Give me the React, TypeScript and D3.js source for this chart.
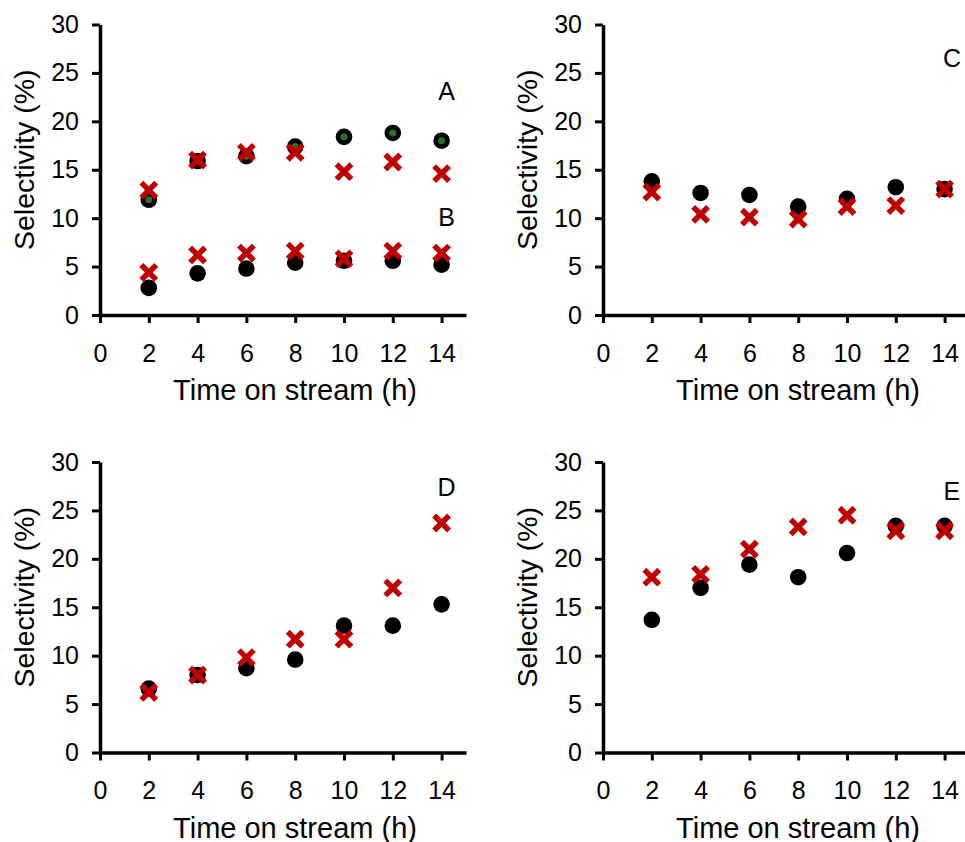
import React, { useEffect, useRef } from "react";
import * as d3 from "d3";

const hours = [2, 4, 6, 8, 10, 12, 14];

// panel A (upper group) and B (lower group) share the top-left axes
const aCircle = [11.9, 15.9, 16.4, 17.4, 18.4, 18.8, 18.0];
const aCross = [12.9, 16.0, 16.8, 16.8, 14.8, 15.8, 14.6];
const bCircle = [2.8, 4.3, 4.8, 5.4, 5.6, 5.6, 5.2];
const bCross = [4.4, 6.2, 6.4, 6.6, 5.8, 6.6, 6.4];
const cCircle = [13.8, 12.6, 12.4, 11.2, 12.0, 13.2, 13.0];
const cCross = [12.7, 10.4, 10.1, 9.9, 11.2, 11.3, 13.0];
const dCircle = [6.6, 8.0, 8.7, 9.6, 13.1, 13.1, 15.3];
const dCross = [6.2, 8.0, 9.8, 11.7, 11.7, 17.0, 23.7];
const eCircle = [13.7, 17.0, 19.4, 18.1, 20.6, 23.4, 23.4];
const eCross = [18.1, 18.4, 21.0, 23.3, 24.5, 22.9, 22.9];

const xTicks = [0, 2, 4, 6, 8, 10, 12, 14];
const yTicks = [0, 5, 10, 15, 20, 25, 30];

type Label = { text: string; x: number; y: number };
type Panel = {
  left: number;
  top: number;
  circles: { values: number[]; dot: boolean }[];
  crosses: number[][];
  labels: Label[];
};

const panels: Panel[] = [
  {
    left: 100, top: 24.5,
    circles: [{ values: aCircle, dot: true }, { values: bCircle, dot: false }],
    crosses: [aCross, bCross],
    labels: [{ text: "A", x: 14.2, y: 22.2 }, { text: "B", x: 14.2, y: 9.2 }],
  },
  {
    left: 603, top: 24.5,
    circles: [{ values: cCircle, dot: false }],
    crosses: [cCross],
    labels: [{ text: "C", x: 14.3, y: 25.6 }],
  },
  {
    left: 100, top: 462,
    circles: [{ values: dCircle, dot: false }],
    crosses: [dCross],
    labels: [{ text: "D", x: 14.2, y: 26.5 }],
  },
  {
    left: 603, top: 462,
    circles: [{ values: eCircle, dot: false }],
    crosses: [eCross],
    labels: [{ text: "E", x: 14.3, y: 26.1 }],
  },
];

const W = 366;
const H = 290.5;
const FONT = "Liberation Sans, Arial, sans-serif";

export default function App() {
  const ref = useRef<SVGSVGElement>(null);

  useEffect(() => {
    const svg = d3.select(ref.current);
    svg.selectAll("*").remove();

    panels.forEach((p) => {
      const g = svg.append("g").attr("transform", `translate(${p.left},${p.top})`);
      const x = d3.scaleLinear().domain([0, 15]).range([0, W]);
      const y = d3.scaleLinear().domain([0, 30]).range([H, 0]);

      // y axis
      const ya = g.append("g").call(
        d3.axisLeft(y).tickValues(yTicks).tickSize(8).tickSizeOuter(0).tickPadding(13)
      );
      ya.select(".domain").attr("stroke", "#000").attr("stroke-width", 3.5);
      ya.selectAll(".tick line").attr("stroke", "#000").attr("stroke-width", 3);
      ya.selectAll(".tick text").attr("font-size", 25).attr("font-family", FONT).attr("fill", "#000");

      // x axis
      const xa = g.append("g").attr("transform", `translate(0,${H})`).call(
        d3.axisBottom(x).tickValues(xTicks).tickSize(8).tickSizeOuter(0).tickPadding(21)
      );
      xa.select(".domain").attr("stroke", "#000").attr("stroke-width", 3.5);
      xa.selectAll(".tick line").attr("stroke", "#000").attr("stroke-width", 3);
      xa.selectAll(".tick text").attr("font-size", 25).attr("font-family", FONT).attr("fill", "#000");

      // titles
      g.append("text")
        .attr("transform", `translate(${-66},${H / 2 - 10}) rotate(-90)`)
        .attr("text-anchor", "middle")
        .attr("font-size", 28.5)
        .attr("font-family", FONT)
        .text("Selectivity (%)");
      g.append("text")
        .attr("x", 195)
        .attr("y", H + 85)
        .attr("text-anchor", "middle")
        .attr("font-size", 29)
        .attr("font-family", FONT)
        .text("Time on stream (h)");

      // circles
      p.circles.forEach((s) => {
        g.append("g").selectAll("circle")
          .data(s.values)
          .join("circle")
          .attr("cx", (_, i) => x(hours[i]))
          .attr("cy", (d) => y(d))
          .attr("r", 8.3)
          .attr("fill", "#000");
        if (s.dot) {
          g.append("g").selectAll("circle")
            .data(s.values)
            .join("circle")
            .attr("cx", (_, i) => x(hours[i]))
            .attr("cy", (d) => y(d))
            .attr("r", 3.5)
            .attr("fill", "#267326");
        }
      });

      // crosses
      p.crosses.forEach((vals) => {
        g.append("g").selectAll("path")
          .data(vals)
          .join("path")
          .attr("transform", (d, i) => `translate(${x(hours[i])},${y(d)})`)
          .attr("d", "M-5.5,-5.5L5.5,5.5M-5.5,5.5L5.5,-5.5")
          .attr("stroke", "#c00000")
          .attr("stroke-width", 5.5)
          .attr("stroke-linecap", "square")
          .attr("fill", "none");
      });

      p.labels.forEach((l) => {
        g.append("text")
          .attr("x", x(l.x))
          .attr("y", y(l.y))
          .attr("text-anchor", "middle")
          .attr("font-size", 25)
          .attr("font-family", FONT)
          .text(l.text);
      });
    });
  }, []);

  return (
    <svg
      ref={ref}
      width={965}
      height={842}
      style={{ position: "absolute", left: 0, top: 0, background: "#fff" }}
    />
  );
}
